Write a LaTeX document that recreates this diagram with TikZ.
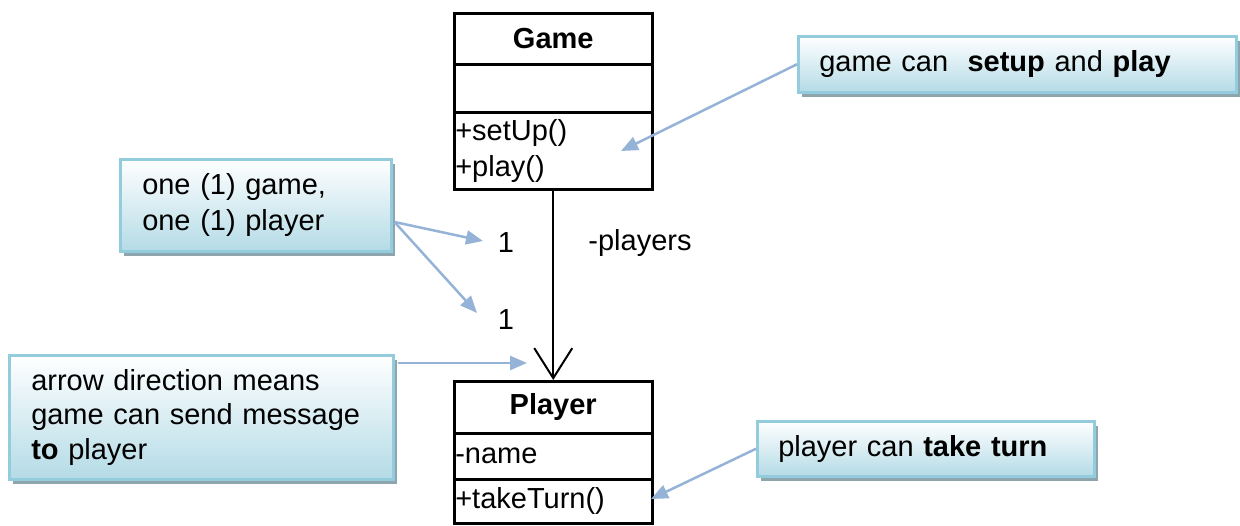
\documentclass[tikz,border=0pt]{standalone}
\usepackage{fontspec}
\setmainfont{Liberation Sans}
\usetikzlibrary{arrows.meta,shadows,calc}
\definecolor{notefill}{HTML}{B4DBE6}
\definecolor{noteedge}{HTML}{93CDDD}
\definecolor{noteshadow}{HTML}{8FA5AD}
\definecolor{pointer}{HTML}{95B3D7}
\begin{document}
\begin{tikzpicture}[x=1pt,y=-1pt,
  every node/.style={font=\fontsize{29}{36}\selectfont},
  note/.style={draw=noteedge, line width=2.5pt, top color=white, bottom color=notefill,
    anchor=north west, align=left, inner ysep=0pt,
    drop shadow={shadow xshift=4pt, shadow yshift=-5pt, fill=noteshadow, opacity=1}},
  umlbox/.style={draw, line width=2.5pt, minimum width=198pt, inner sep=0pt, anchor=north west},
  umltext/.style={umlbox, text width=196pt, inner xsep=1pt, align=left},
  ptr/.style={draw=pointer, line width=2.5pt, -{Triangle[length=17pt,width=14pt]}},
  assoc/.style={line width=2pt, -{Straight Barb[length=30pt,width=38pt]}}
]
\useasboundingbox (0,0) rectangle (1240,525);

% class Game
\node[umlbox, minimum height=51pt] (gname) at (453,12) {\textbf{Game}};
\node[umlbox, minimum height=48pt] (gattr) at (453,63) {};
\node[umltext, minimum height=77pt] (gops) at (453,111) {+setUp()\\+play()};

% class Player
\node[umlbox, minimum height=52pt] (pname) at (453,380) {\textbf{Player}};
\node[umltext, minimum height=46pt] (pattr) at (453,432) {-name};
\node[umltext, minimum height=44pt] (pops) at (453,478) {+takeTurn()};

% association Game -> Player
\draw[assoc] (gops.south) -- (pname.north);
\node (m1) at (506,243) {1};
\node (m2) at (506,320) {1};
\node (role) at (640,243) {-players};

% notes
\node[note, minimum width=438pt, minimum height=56pt, text width=396pt, inner xsep=21pt] (c1) at (797,35)
  {game can\ \ \textbf{setup} and \textbf{play}};
\node[note, minimum width=271pt, minimum height=92pt, text width=227pt, inner xsep=22pt] (c2) at (119,158)
  {one (1) game,\\one (1) player};
\node[note, minimum width=384pt, minimum height=124pt, text width=340pt, inner xsep=22pt,
      font=\fontsize{29}{34.5}\selectfont] (c3) at (8,354)
  {arrow direction means\\game can send message\\\textbf{to} player};
\node[note, minimum width=337pt, minimum height=55pt, text width=295pt, inner xsep=21pt] (c4) at (756,420)
  {player can \textbf{take turn}};

% pointers from the notes
\coordinate (t1) at (621,151);
\coordinate (s2) at ($(c2.north east)+(2,64)$);
\coordinate (t2a) at (483,241);
\coordinate (t2b) at (477,313);
\coordinate (s3) at ($(c3.north east)+(3,9)$);
\coordinate (t3) at (527,363);
\coordinate (t4) at (651,499);

\draw[ptr] (c1.west) -- (t1);
\draw[ptr] (s2) -- (t2a);
\draw[ptr] (s2) -- (t2b);
\draw[ptr] (s3) -- (t3);
\draw[ptr] (c4.west) -- (t4);
\end{tikzpicture}
\end{document}
